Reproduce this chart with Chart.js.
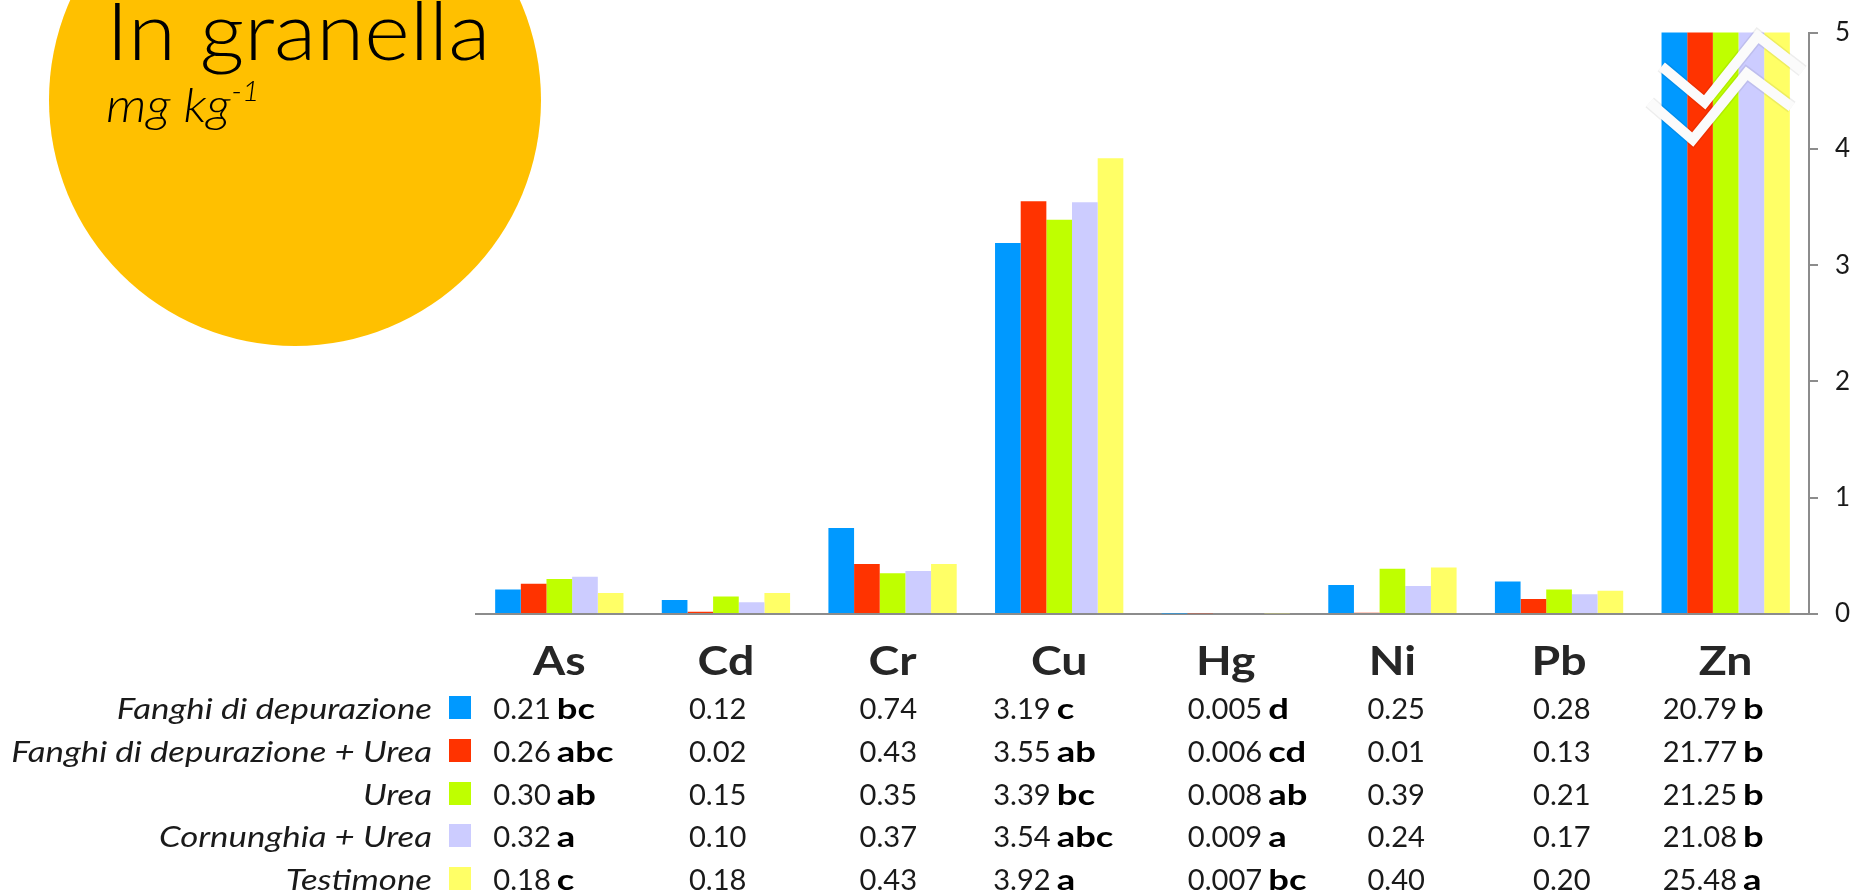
<!DOCTYPE html>
<html>
<head>
<meta charset="utf-8">
<title>In granella</title>
<script src="https://cdn.jsdelivr.net/npm/chart.js@4"></script>
<style>
  html, body { margin: 0; padding: 0; background: #ffffff; }
  #wrap { position: relative; width: 1853px; height: 896px; }
</style>
</head>
<body>
<div id="wrap"><canvas id="metalsChart"></canvas></div>
<script>
// metals measured in the grain, mg/kg
const metals = ["As", "Cd", "Cr", "Cu", "Hg", "Ni", "Pb", "Zn"];
const decimals = [2, 2, 2, 2, 3, 2, 2, 2];
const yTicks = [0, 1, 2, 3, 4, 5];

const seriesNames = ["Fanghi di depurazione", "Fanghi di depurazione + Urea", "Urea", "Cornunghia + Urea", "Testimone"];
const seriesColors = ["#0099ff", "#ff3300", "#bfff00", "#ccccff", "#ffff66"];

const fanghi      = [0.21, 0.12, 0.74, 3.19, 0.005, 0.25, 0.28, 20.79];
const fanghiUrea  = [0.26, 0.02, 0.43, 3.55, 0.006, 0.01, 0.13, 21.77];
const urea        = [0.30, 0.15, 0.35, 3.39, 0.008, 0.39, 0.21, 21.25];
const cornunghia  = [0.32, 0.10, 0.37, 3.54, 0.009, 0.24, 0.17, 21.08];
const testimone   = [0.18, 0.18, 0.43, 3.92, 0.007, 0.40, 0.20, 25.48];

// significance letters, same order as the values
const fanghiSig     = ["bc", "", "", "c", "d", "", "", "b"];
const fanghiUreaSig = ["abc", "", "", "ab", "cd", "", "", "b"];
const ureaSig       = ["ab", "", "", "bc", "ab", "", "", "b"];
const cornunghiaSig = ["a", "", "", "abc", "a", "", "", "b"];
const testimoneSig  = ["c", "", "", "a", "bc", "", "", "a"];

const allValues = [fanghi, fanghiUrea, urea, cornunghia, testimone];
const allSig = [fanghiSig, fanghiUreaSig, ureaSig, cornunghiaSig, testimoneSig];

const FONT = "Lato, 'Open Sans', sans-serif";
const GREY = "#8c8c8c";

// where each table column starts, relative to its bar group centre (px)
const columnInset = [-66, -37, -33, -66, -38, -25, -26, -63];

// zig-zag break over the Zn bars (x offset from the Zn centre in px, y in axis units)
const breakUpper = [[-64, 4.71], [-21, 4.40], [32, 4.97], [77, 4.67]];
const breakLower = [[-76, 4.40], [-33, 4.08], [21, 4.65], [66, 4.36]];

// text drawn with a horizontal stretch, returns its drawn width
function wideText(ctx, text, x, y, sx, align) {
  const w = ctx.measureText(text).width * sx;
  const left = align === "right" ? x - w : align === "center" ? x - w / 2 : x;
  ctx.save();
  ctx.textAlign = "left";
  ctx.translate(left, y);
  ctx.scale(sx, 1);
  ctx.fillText(text, 0, 0);
  ctx.restore();
  return w;
}

const backdrop = {
  id: "backdrop",
  beforeDraw(chart) {
    const ctx = chart.ctx;
    ctx.save();
    ctx.fillStyle = "#ffc000";
    ctx.beginPath();
    ctx.arc(295, 100, 246, 0, Math.PI * 2);
    ctx.fill();

    ctx.fillStyle = "#000000";
    ctx.textBaseline = "alphabetic";
    ctx.font = "300 80px " + FONT;
    wideText(ctx, "In granella", 106, 60, 1.09, "left");
    ctx.font = "italic 300 48px " + FONT;
    const w = wideText(ctx, "mg kg", 106, 122, 1.08, "left");
    ctx.font = "italic 300 28px " + FONT;
    wideText(ctx, "-1", 106 + w + 1, 101, 1.08, "left");
    ctx.restore();
  }
};

const axisBreak = {
  id: "axisBreak",
  afterDatasetsDraw(chart) {
    const ctx = chart.ctx;
    const x = chart.scales.x, y = chart.scales.y;
    const cx = x.getPixelForValue(metals.length - 1);
    const stroke = (pts, color, width) => {
      ctx.beginPath();
      pts.forEach((p, i) => {
        const px = cx + p[0], py = y.getPixelForValue(p[1]);
        if (i === 0) ctx.moveTo(px, py); else ctx.lineTo(px, py);
      });
      ctx.strokeStyle = color;
      ctx.lineWidth = width;
      ctx.lineJoin = "miter";
      ctx.lineCap = "butt";
      ctx.stroke();
    };
    ctx.save();
    [breakUpper, breakLower].forEach(pts => {
      stroke(pts, "rgba(0,0,0,0.07)", 13);
      stroke(pts, "#fbfbfb", 10);
    });
    ctx.restore();
  }
};

const dataTable = {
  id: "dataTable",
  afterDraw(chart) {
    const ctx = chart.ctx;
    const x = chart.scales.x;
    const headBase = 675;
    const rowBase = [719, 762, 805, 847, 890];
    ctx.save();
    ctx.textBaseline = "alphabetic";

    // metal names
    ctx.fillStyle = "#262626";
    ctx.font = "bold 40px " + FONT;
    metals.forEach((m, i) => wideText(ctx, m, x.getPixelForValue(i), headBase, 1.16, "center"));

    // legend: italic names + colour squares
    ctx.font = "italic 29px " + FONT;
    seriesNames.forEach((name, r) => {
      ctx.fillStyle = "#1a1a1a";
      wideText(ctx, name, 432, rowBase[r], 1.2, "right");
      ctx.fillStyle = seriesColors[r];
      ctx.fillRect(449, rowBase[r] - 23, 22, 23);
    });

    // values with their letters
    const gap = 6;
    metals.forEach((m, i) => {
      const left = x.getPixelForValue(i) + columnInset[i];
      allValues.forEach((vals, r) => {
        ctx.fillStyle = "#1a1a1a";
        ctx.font = "28px " + FONT;
        const nw = wideText(ctx, vals[i].toFixed(decimals[i]), left, rowBase[r], 1.04, "left");
        const sig = allSig[r][i];
        if (sig) {
          ctx.fillStyle = "#000000";
          ctx.font = "bold 28px " + FONT;
          wideText(ctx, sig, left + nw + gap, rowBase[r], 1.3, "left");
        }
      });
    });
    ctx.restore();
  }
};

new Chart("metalsChart", {
  type: "bar",
  data: {
    labels: metals,
    datasets: allValues.map((vals, r) => ({
      label: seriesNames[r],
      data: vals,
      backgroundColor: seriesColors[r],
      borderWidth: 0,
      categoryPercentage: 0.77,
      barPercentage: 1.0
    }))
  },
  options: {
    responsive: true,
    maintainAspectRatio: false,
    animation: false,
    layout: { padding: { left: 476, top: 24, right: 0, bottom: 282 } },
    plugins: {
      legend: { display: false },
      tooltip: { enabled: false }
    },
    scales: {
      x: {
        ticks: { display: false },
        grid: { display: false },
        border: { display: true, color: GREY, width: 2 },
        afterFit(scale) { scale.height = 0; }
      },
      y: {
        position: "right",
        min: yTicks[0],
        max: yTicks[yTicks.length - 1],
        afterBuildTicks(scale) { scale.ticks = yTicks.map(v => ({ value: v })); },
        ticks: { color: "#1a1a1a", font: { family: FONT, size: 26 }, padding: 17 },
        grid: { drawOnChartArea: false, drawTicks: true, tickLength: 9, color: GREY, lineWidth: 2 },
        border: { display: true, color: GREY, width: 2 },
        afterFit(scale) { scale.width = 44; }
      }
    }
  },
  plugins: [backdrop, axisBreak, dataTable]
});
</script>
</body>
</html>
